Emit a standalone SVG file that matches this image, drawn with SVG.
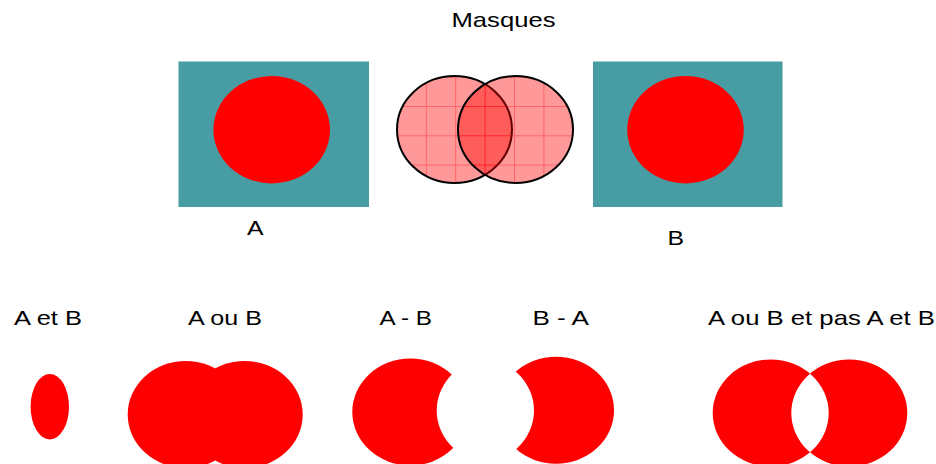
<svg xmlns="http://www.w3.org/2000/svg" width="936" height="464" viewBox="0 0 936 464">
<style>
  .lbl { font-family: "Liberation Sans", Arial, sans-serif; font-size: 21px; fill: #000; }
  .red { fill: #ff0000; }
  .teal { fill: #479da3; }
  .venn { fill: url(#grid); stroke: #000; stroke-width: 2; }
</style>
<defs>
  <pattern id="grid" patternUnits="userSpaceOnUse" x="396.4" y="76.7" width="29.4" height="29.3">
    <rect width="29.4" height="29.3" fill="#ff0000" fill-opacity="0.4"/>
    <path d="M0 0.5 H29.4 M0.5 0 V29.3" stroke="#ff0000" stroke-opacity="0.35" stroke-width="1" fill="none"/>
  </pattern>
  <mask id="maskAminusB" maskUnits="userSpaceOnUse" x="340" y="340" width="150" height="124">
    <rect x="340" y="340" width="150" height="124" fill="#fff"/>
    <ellipse cx="494.7" cy="410.5" rx="58" ry="53.5" fill="#000"/>
  </mask>
  <mask id="maskBminusA" maskUnits="userSpaceOnUse" x="490" y="340" width="140" height="124">
    <rect x="490" y="340" width="140" height="124" fill="#fff"/>
    <ellipse cx="476" cy="410.5" rx="58" ry="53.5" fill="#000"/>
  </mask>
</defs>

<g id="title">
  <text class="lbl" x="451.5" y="26.7" textLength="104" lengthAdjust="spacingAndGlyphs">Masques</text>
</g>

<g id="maskA">
  <rect class="teal" x="178.5" y="61.5" width="190.5" height="145.5"/>
  <ellipse class="red" cx="271.7" cy="129.7" rx="58.3" ry="53.7"/>
  <text class="lbl" x="247" y="235" textLength="16.5" lengthAdjust="spacingAndGlyphs">A</text>
</g>

<g id="venn">
  <ellipse class="venn" cx="454.5" cy="129.5" rx="57.5" ry="53.5"/>
  <ellipse class="venn" cx="515.5" cy="129.5" rx="57.5" ry="53.5"/>
</g>

<g id="maskB">
  <rect class="teal" x="593" y="61.5" width="189.5" height="145.5"/>
  <ellipse class="red" cx="685.5" cy="129.7" rx="58.3" ry="53.7"/>
  <text class="lbl" x="667.5" y="245" textLength="16.5" lengthAdjust="spacingAndGlyphs">B</text>
</g>

<g id="AetB">
  <text class="lbl" x="14" y="325" textLength="68" lengthAdjust="spacingAndGlyphs">A et B</text>
  <ellipse class="red" cx="49.8" cy="406.7" rx="19.2" ry="32.7"/>
</g>

<g id="AouB">
  <text class="lbl" x="188" y="325" textLength="74" lengthAdjust="spacingAndGlyphs">A ou B</text>
  <ellipse class="red" cx="185.7" cy="414.5" rx="58" ry="53.5"/>
  <ellipse class="red" cx="244.7" cy="414.5" rx="58" ry="53.5"/>
</g>

<g id="AmoinsB">
  <text class="lbl" x="379.5" y="325" textLength="52.5" lengthAdjust="spacingAndGlyphs">A - B</text>
  <ellipse class="red" cx="410.3" cy="412" rx="58" ry="53.5" mask="url(#maskAminusB)"/>
</g>

<g id="BmoinsA">
  <text class="lbl" x="532.5" y="325" textLength="56.5" lengthAdjust="spacingAndGlyphs">B - A</text>
  <ellipse class="red" cx="556" cy="410.2" rx="58" ry="53.5" mask="url(#maskBminusA)"/>
</g>

<g id="AxorB">
  <text class="lbl" x="708" y="325" textLength="227" lengthAdjust="spacingAndGlyphs">A ou B et pas A et B</text>
  <path class="red" fill-rule="evenodd" d="M712.7 413 a58 53.5 0 1 0 116 0 a58 53.5 0 1 0 -116 0 Z M791.3 413 a58 53.5 0 1 0 116 0 a58 53.5 0 1 0 -116 0 Z"/>
</g>

<g id="connectors"></g>
</svg>
